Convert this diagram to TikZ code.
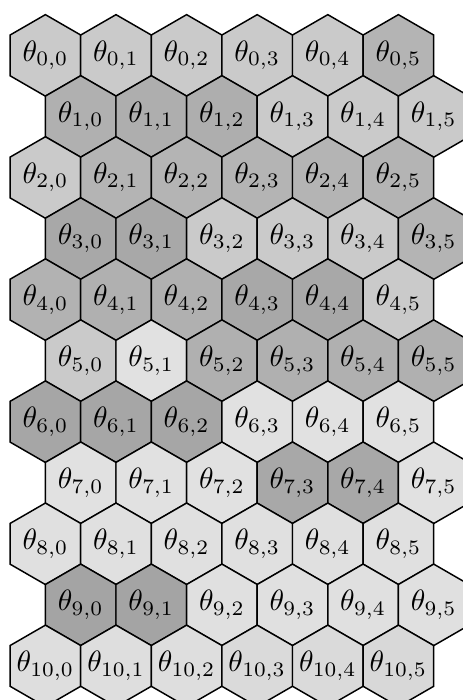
\documentclass[tikz,border=0pt]{standalone}
\begin{document}
\begin{tikzpicture}[x=0.34pt,y=-0.34pt,
  hexcell/.style={draw=black, line width=0.5pt, line join=miter},
  lbl/.style={inner sep=0pt}]
\useasboundingbox (0,0) rectangle (463,700);
\foreach \r/\vals in {
  0/{202,202,202,202,202,180},
  1/{176,174,174,202,202,202},
  2/{202,180,180,180,180,180},
  3/{168,168,202,202,202,180},
  4/{178,176,176,168,168,202},
  5/{202,225,176,176,176,176},
  6/{166,166,166,225,225,225},
  7/{225,225,225,168,168,225},
  8/{224,224,224,224,224,224},
  9/{164,164,224,224,224,224},
  10/{222,222,222,218,218,216}}{
  \foreach \g [count=\jj from 0] in \vals {
    \pgfmathsetmacro\cx{45.4+70.6*\jj+35.3*mod(\r,2)}
    \pgfmathsetmacro\cy{55.4+61.05*\r}
    \definecolor{cellc}{RGB}{\g,\g,\g}
    \path[hexcell, fill=cellc] (\cx,\cy-40.76) -- (\cx+35.3,\cy-20.38) -- (\cx+35.3,\cy+20.38)
      -- (\cx,\cy+40.76) -- (\cx-35.3,\cy+20.38) -- (\cx-35.3,\cy-20.38) -- cycle;
    \node[lbl] (t\r-\jj) at (\cx,\cy) {$\theta_{\r,\jj}$};
  }
}
\end{tikzpicture}
\end{document}
